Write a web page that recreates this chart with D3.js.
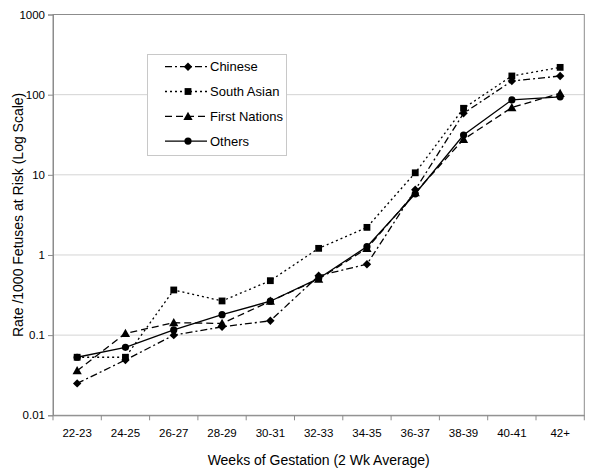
<!DOCTYPE html>
<html lang="en">
<head>
<meta charset="UTF-8">
<script src="https://d3js.org/d3.v7.min.js"></script>
<style>
  body { margin: 0; background: #fff; }
  svg text { font-family: "Liberation Sans", Arial, sans-serif; fill: #000; }
</style>
</head>
<body>
<svg id="chart" width="600" height="470"></svg>
<script>
    var weeks = ["22-23","24-25","26-27","28-29","30-31","32-33","34-35","36-37","38-39","40-41","42+"];
    var chinese = [0.025, 0.049, 0.10, 0.127, 0.151, 0.55, 0.766, 6.5, 58.5, 148, 171];
    var southAsian = [0.053, 0.053, 0.366, 0.267, 0.478, 1.21, 2.21, 10.6, 67.6, 171, 219];
    var firstNations = [0.036, 0.105, 0.143, 0.14, 0.265, 0.5, 1.21, 6.0, 27.7, 69, 104];
    var others = [0.053, 0.0705, 0.116, 0.18, 0.265, 0.51, 1.27, 5.8, 31.4, 86, 94];
    var yTicks = [0.01, 0.1, 1, 10, 100, 1000];
    var yTickLabels = ["0.01", "0.1", "1", "10", "100", "1000"];

    var series = [
        {name: "Chinese", values: chinese, dash: "7,3,2,3", marker: "diamond"},
        {name: "South Asian", values: southAsian, dash: "2,3", marker: "square"},
        {name: "First Nations", values: firstNations, dash: "7,4", marker: "triangle"},
        {name: "Others", values: others, dash: null, marker: "circle"}
    ];

    // plot area bounds (named to avoid window.top)
    var pL = 53, pR = 584.3, pT = 14.5, pB = 415.3;

    var svg = d3.select("#chart");

    var x = d3.scaleBand().domain(weeks).range([pL, pR]);
    var y = d3.scaleLog().domain([0.01, 1000]).range([pB, pT]);

    // gridlines
    svg.append("g").selectAll("line").data(yTicks.slice(1, -1)).enter()
        .append("line")
        .attr("x1", pL).attr("x2", pR)
        .attr("y1", function(d){ return y(d); })
        .attr("y2", function(d){ return y(d); })
        .attr("stroke", "#d4d4d4").attr("stroke-width", 1);

    // plot frame
    svg.append("rect")
        .attr("x", pL).attr("y", pT)
        .attr("width", pR - pL).attr("height", pB - pT)
        .attr("fill", "none").attr("stroke", "#8c8c8c").attr("stroke-width", 1);

    // y axis
    var yAxis = d3.axisLeft(y).tickValues(yTicks)
        .tickFormat(function(d, i){ return yTickLabels[i]; })
        .tickSize(5).tickPadding(3);
    var gy = svg.append("g").attr("transform", "translate(" + pL + ",0)").call(yAxis);
    gy.select(".domain").attr("stroke", "#8c8c8c");
    gy.selectAll(".tick line").attr("stroke", "#8c8c8c");
    gy.selectAll(".tick text").style("font-size", "11.5px").attr("fill", "#000");

    // x axis
    var xAxis = d3.axisBottom(x).tickSize(0).tickPadding(14);
    var gx = svg.append("g").attr("transform", "translate(0," + pB + ")").call(xAxis);
    gx.select(".domain").attr("stroke", "#8c8c8c");
    gx.selectAll(".tick text").style("font-size", "11.5px").attr("fill", "#000");

    // x tick marks on band edges
    var edges = weeks.map(function(w){ return x(w); }).concat([pR]);
    svg.append("g").selectAll("line").data(edges).enter()
        .append("line")
        .attr("x1", function(d){ return d; }).attr("x2", function(d){ return d; })
        .attr("y1", pB).attr("y2", pB + 5)
        .attr("stroke", "#8c8c8c");

    // axis titles
    svg.append("text")
        .attr("x", (pL + pR) / 2).attr("y", 465)
        .attr("text-anchor", "middle")
        .style("font-size", "14px")
        .text("Weeks of Gestation (2 Wk Average)");

    svg.append("text")
        .attr("transform", "translate(23," + ((pT + pB) / 2) + ") rotate(-90)")
        .attr("text-anchor", "middle")
        .style("font-size", "14px")
        .text("Rate /1000 Fetuses at Risk (Log Scale)");

    function drawMarker(g, type, cx, cy) {
        if (type === "diamond") {
            g.append("path").attr("d", "M" + cx + "," + (cy - 4.2) + "L" + (cx + 4.2) + "," + cy +
                "L" + cx + "," + (cy + 4.2) + "L" + (cx - 4.2) + "," + cy + "Z").attr("fill", "#000");
        } else if (type === "square") {
            g.append("rect").attr("x", cx - 3.4).attr("y", cy - 3.4)
                .attr("width", 6.8).attr("height", 6.8).attr("fill", "#000");
        } else if (type === "triangle") {
            g.append("path").attr("d", "M" + cx + "," + (cy - 4.6) + "L" + (cx + 4.6) + "," + (cy + 3.6) +
                "L" + (cx - 4.6) + "," + (cy + 3.6) + "Z").attr("fill", "#000");
        } else {
            g.append("circle").attr("cx", cx).attr("cy", cy).attr("r", 3.6).attr("fill", "#000");
        }
    }

    var line = d3.line()
        .x(function(d, i){ return x(weeks[i]) + x.bandwidth() / 2; })
        .y(function(d){ return y(d); });

    series.forEach(function(s) {
        var g = svg.append("g");
        g.append("path")
            .datum(s.values)
            .attr("d", line)
            .attr("fill", "none")
            .attr("stroke", "#000")
            .attr("stroke-width", 1.3)
            .attr("stroke-dasharray", s.dash);
        s.values.forEach(function(v, i) {
            drawMarker(g, s.marker, x(weeks[i]) + x.bandwidth() / 2, y(v));
        });
    });

    // legend
    var lg = svg.append("g");
    lg.append("rect")
        .attr("x", 147.5).attr("y", 54.5).attr("width", 139).attr("height", 101)
        .attr("fill", "#fff").attr("stroke", "#c8c8c8");
    series.forEach(function(s, i) {
        var ly = 66.7 + i * 24.8;
        lg.append("line")
            .attr("x1", 165).attr("x2", 207)
            .attr("y1", ly).attr("y2", ly)
            .attr("stroke", "#000").attr("stroke-width", 1.3)
            .attr("stroke-dasharray", s.dash);
        drawMarker(lg, s.marker, 188, ly);
        lg.append("text")
            .attr("x", 210).attr("y", ly + 4.5)
            .style("font-size", "13px")
            .text(s.name);
    });
</script>
</body>
</html>
